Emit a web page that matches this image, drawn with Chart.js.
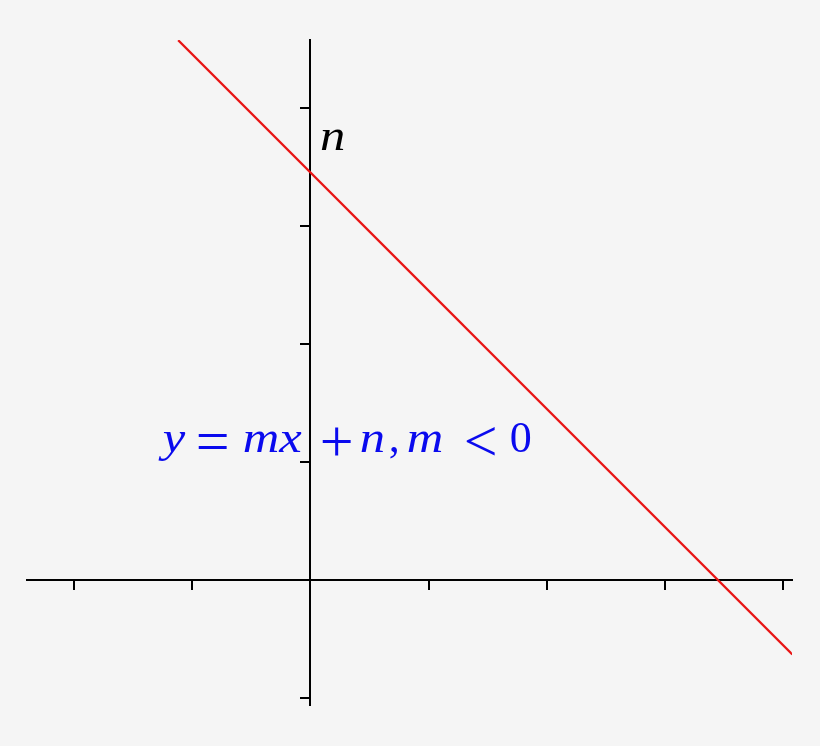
<!DOCTYPE html>
<html>
<head>
<meta charset="utf-8">
<script src="https://cdn.jsdelivr.net/npm/chart.js@4"></script>
<style>
  html, body { margin: 0; padding: 0; background: #f5f5f5; }
  #wrap { width: 820px; height: 746px; }
</style>
</head>
<body>
<div id="wrap"><canvas id="c"></canvas></div>
<script>
// line y = m x + n with m < 0
const lineX = [-1.12, 4.08];
const lineY = [4.57, -0.63];

const xTicks = [-2, -1, 0, 1, 2, 3, 4];
const yTicks = [-1, 0, 1, 2, 3, 4];

const xMin = -2.40, xMax = 4.077;
const yMin = -1.058, yMax = 4.572;

// label runs: [text, kind, x offset in px from the label start]
// kind: 'i' italic letter, 'o' operator, 'r' upright
const nLabel = [['n', 'i', 0]];
const eqLabel = [
  ['y', 'i', 0], ['=', 'o', 33], ['mx', 'i', 80], ['+', 'o', 157],
  ['n', 'i', 197], [',', 'r', 226], ['m', 'i', 244], ['<', 'o', 301], ['0', 'r', 347],
];

const FONT = '"Liberation Serif", "Times New Roman", serif';
const RUN_STYLE = {
  i: { font: 'italic 44px', sx: 1.15 },
  o: { font: '60px', sx: 1.0, axis: 11 },   // operators sit centred on the math axis
  r: { font: '44px', sx: 1.0 },
};

function drawRuns(ctx, runs, x, y, color) {
  ctx.save();
  ctx.fillStyle = color;
  ctx.textBaseline = 'alphabetic';
  ctx.textAlign = 'left';
  for (const [txt, kind, dx] of runs) {
    const st = RUN_STYLE[kind];
    ctx.font = st.font + ' ' + FONT;
    let by = y;
    if (st.axis) {
      const m = ctx.measureText(txt);
      by = y - st.axis + (m.actualBoundingBoxAscent - m.actualBoundingBoxDescent) / 2;
    }
    ctx.save();
    ctx.translate(x + dx, by);
    ctx.scale(st.sx, 1);
    ctx.fillText(txt, 0, 0);
    ctx.restore();
  }
  ctx.restore();
}

const labelPlugin = {
  id: 'labels',
  afterDatasetsDraw(chart) {
    const { ctx, scales: { x, y } } = chart;
    drawRuns(ctx, nLabel, x.getPixelForValue(0.08), y.getPixelForValue(3.64), '#000');
    drawRuns(ctx, eqLabel, x.getPixelForValue(-1.25), y.getPixelForValue(1.08), '#0a0aee');
  },
};

const axisOpts = (ticks) => ({
  type: 'linear',
  grid: { drawOnChartArea: false, drawTicks: true, tickLength: 9, lineWidth: 2, color: '#000' },
  border: { display: true, color: '#000', width: 2 },
  ticks: { display: false },
  afterBuildTicks: (s) => { s.ticks = ticks.map((v) => ({ value: v })); },
});

new Chart(document.getElementById('c'), {
  type: 'scatter',
  data: {
    datasets: [{
      data: lineX.map((v, i) => ({ x: v, y: lineY[i] })),
      showLine: true,
      borderColor: '#e81414',
      borderWidth: 2.3,
      pointRadius: 0,
      fill: false,
    }],
  },
  options: {
    responsive: true,
    maintainAspectRatio: false,
    animation: false,
    layout: { padding: { left: 27, right: 28, top: 40, bottom: 41 } },
    plugins: { legend: { display: false }, tooltip: { enabled: false } },
    scales: {
      x: { ...axisOpts(xTicks), min: xMin, max: xMax, position: { y: 0 } },
      y: { ...axisOpts(yTicks), min: yMin, max: yMax, position: { x: 0 } },
    },
  },
  plugins: [labelPlugin],
});
</script>
</body>
</html>
